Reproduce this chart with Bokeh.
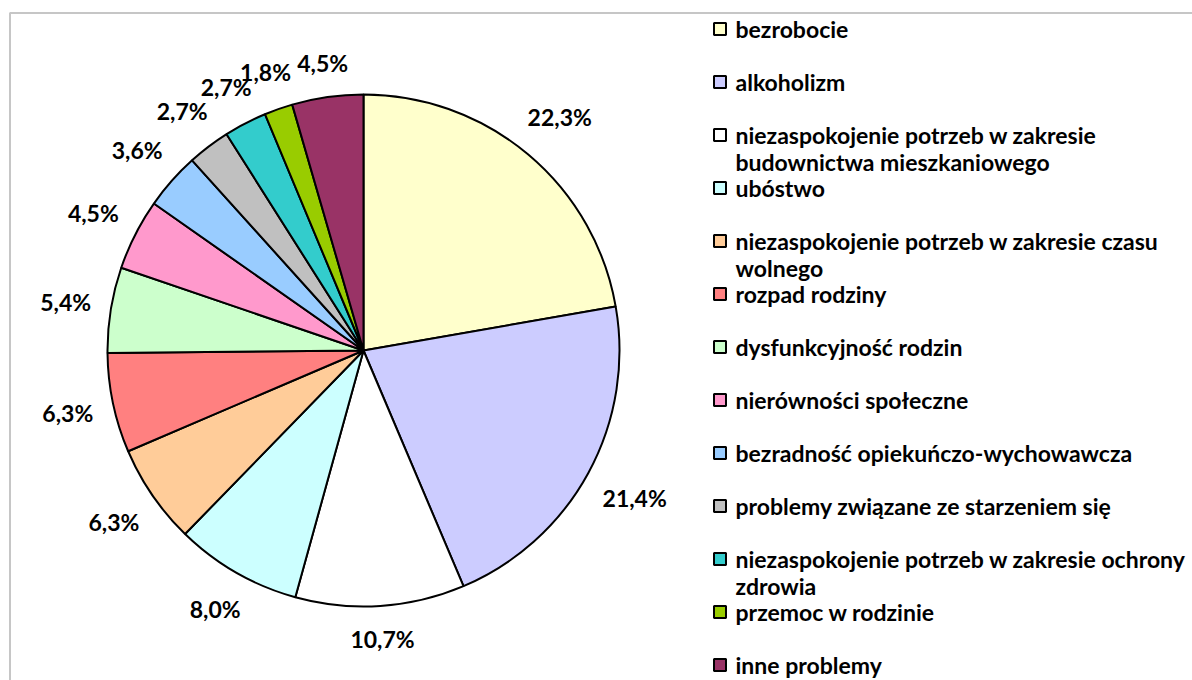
import math
from bokeh.plotting import figure
from bokeh.models import Range1d, ColumnDataSource
from bokeh.core.properties import value
from bokeh.embed import file_html
from bokeh.resources import INLINE

categories = [
    "bezrobocie",
    "alkoholizm",
    "niezaspokojenie potrzeb w zakresie\nbudownictwa mieszkaniowego",
    "ubóstwo",
    "niezaspokojenie potrzeb w zakresie czasu\nwolnego",
    "rozpad rodziny",
    "dysfunkcyjność rodzin",
    "nierówności społeczne",
    "bezradność opiekuńczo-wychowawcza",
    "problemy związane ze starzeniem się",
    "niezaspokojenie potrzeb w zakresie ochrony\nzdrowia",
    "przemoc w rodzinie",
    "inne problemy",
]
percents = [22.3, 21.4, 10.7, 8.0, 6.3, 6.3, 5.4, 4.5, 3.6, 2.7, 2.7, 1.8, 4.5]
pct_labels = ["22,3%", "21,4%", "10,7%", "8,0%", "6,3%", "6,3%", "5,4%", "4,5%",
              "3,6%", "2,7%", "2,7%", "1,8%", "4,5%"]
colors = ["#FFFFCC", "#CCCCFF", "#FFFFFF", "#CCFFFF", "#FFCC99", "#FF8080", "#CCFFCC",
          "#FF99CC", "#99CCFF", "#C0C0C0", "#33CCCC", "#99CC00", "#993366"]

W, H = 1192, 680
FONT = "Lato"

def py(page_y):
    return H - page_y

def px(page_x):
    return page_x

cx, cy, R = px(363), py(350), 256

total = sum(percents)
starts, ends, lx, ly = [], [], [], []
cum = 0.0
for v, lab in zip(percents, pct_labels):
    f = v / total
    a_end = math.pi / 2 - 2 * math.pi * cum
    a_start = math.pi / 2 - 2 * math.pi * (cum + f)
    mid = (a_start + a_end) / 2
    starts.append(a_start)
    ends.append(a_end)
    dx, dy = math.cos(mid), math.sin(mid)
    hw = len(lab) * 6.5
    ext = abs(dx) * hw + abs(dy) * 13
    d = R + 18 + ext
    lx.append(cx + d * dx)
    ly.append(cy + d * dy)
    cum += f

src = ColumnDataSource(dict(start=starts, end=ends, color=colors, lx=lx, ly=ly, lab=pct_labels))

p = figure(width=W, height=H, output_backend="svg", toolbar_location=None,
           x_range=Range1d(0, W), y_range=Range1d(0, H), min_border=0)
p.axis.visible = False
p.grid.visible = False
p.outline_line_color = None
p.background_fill_color = "white"

# chart border (top and left visible)
p.line(x=[px(9.5), px(9.5), W + 10], y=[-10, py(12.5), py(12.5)], line_color="#c6c6c6", line_width=2)

p.wedge(x=cx, y=cy, radius=R, start_angle="start", end_angle="end", direction="anticlock",
        fill_color="color", line_color="black", line_width=2, source=src)

p.text(x="lx", y="ly", text="lab", source=src, text_font=value(FONT), text_font_style="bold",
       text_font_size="23px", text_align="center", text_baseline="middle", text_color="black")

# legend
sq_x, sq_y, tx, ty, tt = [], [], [], [], []
for k, (lab, c) in enumerate(zip(categories, colors)):
    yc = 28.5 + 53.0 * k
    sq_x.append(px(719.5))
    sq_y.append(py(yc))
    for j, line in enumerate(lab.split("\n")):
        tx.append(px(735))
        ty.append(py(yc + 27 * j))
        tt.append(line)

p.rect(x=sq_x, y=sq_y, width=12, height=12, width_units="screen", height_units="screen",
       fill_color=colors, line_color="black", line_width=2)
p.text(x=tx, y=ty, text=tt, text_font=value(FONT), text_font_style="bold",
       text_font_size="23px", text_align="left", text_baseline="middle", text_color="black")

open("out.html", "w").write(file_html(p, INLINE))
